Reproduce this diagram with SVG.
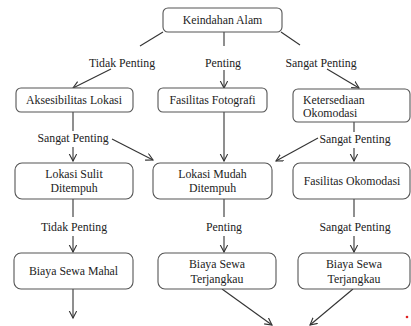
<svg xmlns="http://www.w3.org/2000/svg" width="411" height="326" viewBox="0 0 411 326">
<defs>
<style>
.box{fill:#fff;stroke:#555;stroke-width:1.1}
text{font-family:"Liberation Serif",serif;font-size:11.8px;fill:#222}
.c{text-anchor:middle}
.ln{stroke:#333;stroke-width:1.1;fill:none}
.ar{marker-end:url(#ah)}
</style>
<marker id="ah" markerUnits="userSpaceOnUse" markerWidth="10" markerHeight="10" refX="7" refY="4" orient="auto" viewBox="0 0 10 10">
<path d="M0,0.3 L7,4 L0,7.7" fill="none" stroke="#333" stroke-width="1.1"/>
</marker>
</defs>
<rect width="411" height="326" fill="#fff"/>
<g id="connectors">
<line class="ln" x1="163" y1="32" x2="140" y2="46"/>
<line class="ln ar" x1="111" y1="69" x2="73" y2="88"/>
<line class="ln" x1="224" y1="32" x2="224" y2="46"/>
<line class="ln ar" x1="224" y1="70" x2="224" y2="88"/>
<line class="ln" x1="281" y1="32" x2="300" y2="45"/>
<line class="ln ar" x1="327" y1="69" x2="359" y2="88"/>
<line class="ln" x1="73" y1="112" x2="73" y2="131"/>
<line class="ln ar" x1="73" y1="147" x2="73" y2="161"/>
<line class="ln ar" x1="112" y1="139" x2="153" y2="160"/>
<line class="ln ar" x1="224" y1="112" x2="224" y2="161"/>
<line class="ln" x1="354" y1="122" x2="354" y2="132"/>
<line class="ln ar" x1="354" y1="148" x2="354" y2="161"/>
<line class="ln ar" x1="318" y1="138" x2="276" y2="161"/>
<line class="ln" x1="73" y1="199" x2="73" y2="217"/>
<line class="ln ar" x1="73" y1="236" x2="73" y2="252"/>
<line class="ln" x1="224" y1="199" x2="224" y2="217"/>
<line class="ln ar" x1="224" y1="236" x2="224" y2="252"/>
<line class="ln" x1="354" y1="199" x2="354" y2="217"/>
<line class="ln ar" x1="354" y1="236" x2="354" y2="252"/>
<line class="ln ar" x1="73" y1="289" x2="73" y2="318"/>
<line class="ln ar" x1="222" y1="289" x2="272" y2="325"/>
<line class="ln ar" x1="353" y1="289" x2="310" y2="325"/>
<text font-family="Liberation Serif" class="c" x="122" y="67">Tidak Penting</text>
<text font-family="Liberation Serif" class="c" x="223" y="67">Penting</text>
<text font-family="Liberation Serif" class="c" x="321" y="67">Sangat Penting</text>
<text font-family="Liberation Serif" class="c" x="73" y="142">Sangat Penting</text>
<text font-family="Liberation Serif" class="c" x="355" y="143">Sangat Penting</text>
<text font-family="Liberation Serif" class="c" x="74" y="231">Tidak Penting</text>
<text font-family="Liberation Serif" class="c" x="224" y="231">Penting</text>
<text font-family="Liberation Serif" class="c" x="355" y="231">Sangat Penting</text>
</g>
<g id="keindahan"><rect class="box" x="163" y="8" width="119" height="24" rx="5"/><text class="c" x="222.5" y="24">Keindahan Alam</text></g>
<g id="aksesibilitas"><rect class="box" x="16" y="88" width="117" height="24" rx="5"/><text class="c" x="74" y="104">Aksesibilitas Lokasi</text></g>
<g id="fotografi"><rect class="box" x="158" y="88" width="109" height="24" rx="5"/><text class="c" x="212.5" y="104">Fasilitas Fotografi</text></g>
<g id="ketersediaan"><rect class="box" x="293" y="89" width="117" height="33" rx="5"/><text x="303" y="104">Ketersediaan</text><text x="303" y="117">Okomodasi</text></g>
<g id="lokasi-sulit"><rect class="box" x="15" y="163" width="118" height="36" rx="7"/><text class="c" x="74" y="178">Lokasi Sulit</text><text class="c" x="74" y="192">Ditempuh</text></g>
<g id="lokasi-mudah"><rect class="box" x="153" y="163" width="119" height="36" rx="7"/><text class="c" x="212.5" y="178">Lokasi Mudah</text><text class="c" x="212.5" y="192">Ditempuh</text></g>
<g id="fasilitas-okomodasi"><rect class="box" x="293" y="163" width="117" height="36" rx="7"/><text class="c" x="352" y="185">Fasilitas Okomodasi</text></g>
<g id="biaya-mahal"><rect class="box" x="14" y="253" width="119" height="36" rx="7"/><text class="c" x="73.5" y="275">Biaya Sewa Mahal</text></g>
<g id="biaya-terjangkau-1"><rect class="box" x="158" y="253" width="118" height="36" rx="7"/><text class="c" x="217" y="268">Biaya Sewa</text><text class="c" x="217" y="283">Terjangkau</text></g>
<g id="biaya-terjangkau-2"><rect class="box" x="298" y="253" width="112" height="36" rx="7"/><text class="c" x="354" y="268">Biaya Sewa</text><text class="c" x="354" y="283">Terjangkau</text></g>
<circle cx="407" cy="317" r="1.3" fill="#e02020"/>
</svg>
